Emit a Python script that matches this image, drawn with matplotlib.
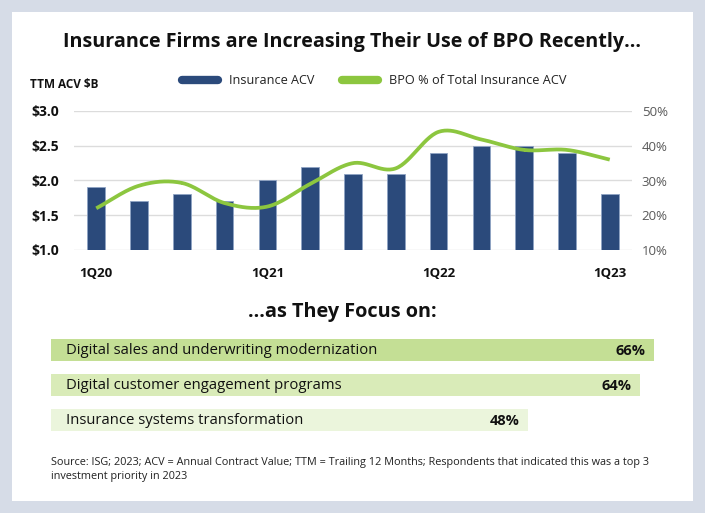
import numpy as np
import matplotlib
matplotlib.use("Agg")
import matplotlib.pyplot as plt
from matplotlib.lines import Line2D

plt.rcParams['font.family'] = ['Open Sans', 'DejaVu Sans']

# ---------------- data ----------------
quarters = ["1Q20", "2Q20", "3Q20", "4Q20", "1Q21", "2Q21", "3Q21", "4Q21",
            "1Q22", "2Q22", "3Q22", "4Q22", "1Q23"]
acv = [1.9, 1.7, 1.8, 1.7, 2.0, 2.2, 2.1, 2.1, 2.4, 2.5, 2.5, 2.4, 1.8]
bpo_pct = [22.0, 28.5, 29.3, 23.5, 22.5, 29.0, 35.0, 33.5, 44.0, 41.8, 38.8, 38.8, 36.0]
left_ticks = [1.0, 1.5, 2.0, 2.5, 3.0]
left_tick_labels = ["$1.0", "$1.5", "$2.0", "$2.5", "$3.0"]
right_ticks = [10, 20, 30, 40, 50]
right_tick_labels = ["10%", "20%", "30%", "40%", "50%"]
shown_x_labels = ["1Q20", "1Q21", "1Q22", "1Q23"]

focus_labels = ["Digital sales and underwriting modernization",
                "Digital customer engagement programs",
                "Insurance systems transformation"]
focus_values = [66, 64, 48]

# ---------------- style ----------------
W, H = 705, 513
BG = "#D6DCE7"
BAR_BLUE = "#2B4A7B"
LINE_GREEN = "#8CC63F"
FOCUS_COLORS = ["#C4DF95", "#D9EBB8", "#EBF5DC"]
GRID = "#DCDCDC"

fig = plt.figure(figsize=(W / 100, H / 100), dpi=100)
fig.patch.set_facecolor(BG)


def px_box(x0, y0, x1, y1):
    return [x0 / W, 1 - y1 / H, (x1 - x0) / W, (y1 - y0) / H]


# white panel (background axes)
bgax = fig.add_axes(px_box(12, 12, 693, 501), zorder=-10)
bgax.set_facecolor("white")
bgax.set_xticks([])
bgax.set_yticks([])
for s in bgax.spines.values():
    s.set_visible(False)

# title
fig.text(352 / W, 1 - 42 / H, "Insurance Firms are Increasing Their Use of BPO Recently…",
         ha="center", va="center", fontsize=14.2, fontweight="bold", color="#111111")

# ---------------- top combo chart ----------------
ax = fig.add_axes(px_box(74, 111, 632, 250))
x = np.arange(len(quarters))
ax.bar(x, acv, width=0.41, bottom=0, color=BAR_BLUE, edgecolor="#8FA3C4",
       linewidth=0.6, zorder=3)
ax.set_ylim(1.0, 3.0)
ax.set_xlim(-0.52, 12.52)
ax.set_yticks(left_ticks)
ax.set_yticklabels(left_tick_labels, fontsize=10, fontweight="bold", color="#111111")
ax.tick_params(axis="y", length=0, pad=11)
ax.yaxis.grid(True, color=GRID, linewidth=1.0, zorder=0)
ax.set_axisbelow(True)
ax.set_xticks([quarters.index(q) for q in shown_x_labels])
ax.set_xticklabels(shown_x_labels, fontsize=9.5, fontweight="bold", color="#111111")
ax.tick_params(axis="x", length=0, pad=12)
for s in ax.spines.values():
    s.set_visible(False)
ax.patch.set_alpha(0)

ax2 = ax.twinx()
ax2.set_ylim(10, 50)
ax2.set_yticks(right_ticks)
ax2.set_yticklabels(right_tick_labels, fontsize=9.5, color="#595959")
ax2.tick_params(axis="y", length=0, pad=7)
for s in ax2.spines.values():
    s.set_visible(False)

# smooth curve (Catmull-Rom through the data points, like Excel smoothing)
px = np.asarray(x, dtype=float)
py = np.asarray(bpo_pct, dtype=float)
P = np.vstack([px, py]).T
P_ext = np.vstack([2 * P[0] - P[1], P, 2 * P[-1] - P[-2]])
curve = []
for i in range(1, len(P_ext) - 2):
    p0, p1, p2, p3 = P_ext[i - 1], P_ext[i], P_ext[i + 1], P_ext[i + 2]
    t = np.linspace(0, 1, 30)[:, None]
    seg = 0.5 * ((2 * p1) + (-p0 + p2) * t + (2 * p0 - 5 * p1 + 4 * p2 - p3) * t ** 2
                 + (-p0 + 3 * p1 - 3 * p2 + p3) * t ** 3)
    curve.append(seg)
curve = np.vstack(curve)
ax2.plot(curve[:, 0], curve[:, 1], color=LINE_GREEN, linewidth=2.7,
         solid_capstyle="butt", zorder=5)

# y-axis title & legend
fig.text(30 / W, 1 - 84 / H, "TTM ACV $B", ha="left", va="center", fontsize=8.5,
         fontweight="bold", color="#111111")
fig.lines.append(Line2D([182 / W, 218 / W], [1 - 80 / H, 1 - 80 / H], transform=fig.transFigure,
                        color=BAR_BLUE, linewidth=6, solid_capstyle="round"))
fig.text(229 / W, 1 - 80 / H, "Insurance ACV", ha="left", va="center", fontsize=9.1,
         color="#222222")
fig.lines.append(Line2D([342 / W, 378 / W], [1 - 80 / H, 1 - 80 / H], transform=fig.transFigure,
                        color=LINE_GREEN, linewidth=6, solid_capstyle="round"))
fig.text(389 / W, 1 - 80 / H, "BPO % of Total Insurance ACV", ha="left", va="center",
         fontsize=9.2, color="#222222")

# ---------------- focus bars ----------------
fig.text(342 / W, 1 - 312 / H, "…as They Focus on:", ha="center", va="center",
         fontsize=14.3, fontweight="bold", color="#111111")

axb = fig.add_axes(px_box(51, 332.5, 660, 437.5))
LABEL_PAD = -20.14  # bars start left of zero to leave room for text
axb.set_xlim(LABEL_PAD, 66.86)
axb.set_ylim(2.5, -0.5)
yb = np.arange(len(focus_labels))
axb.barh(yb, [v - LABEL_PAD for v in focus_values], left=LABEL_PAD, height=0.63,
         color=FOCUS_COLORS, edgecolor="none")
for i, (lab, v) in enumerate(zip(focus_labels, focus_values)):
    axb.text(LABEL_PAD + 2.1, i + 0.02, lab, ha="left", va="center", fontsize=10.7,
             color="#111111")
    axb.annotate(f"{v}%", (v, i + 0.02), xytext=(-6, 0), textcoords="offset points",
                 ha="right", va="center", fontsize=10.5, fontweight="bold", color="#111111")
axb.axis("off")

# source
fig.text(51 / W, 1 - 463 / H,
         "Source: ISG; 2023; ACV = Annual Contract Value; TTM = Trailing 12 Months; Respondents that indicated this was a top 3",
         ha="left", va="center", fontsize=7.8, color="#222222")
fig.text(51 / W, 1 - 477 / H, "investment priority in 2023", ha="left", va="center",
         fontsize=7.8, color="#222222")

fig.savefig("out.png", dpi=100, facecolor=fig.get_facecolor())
